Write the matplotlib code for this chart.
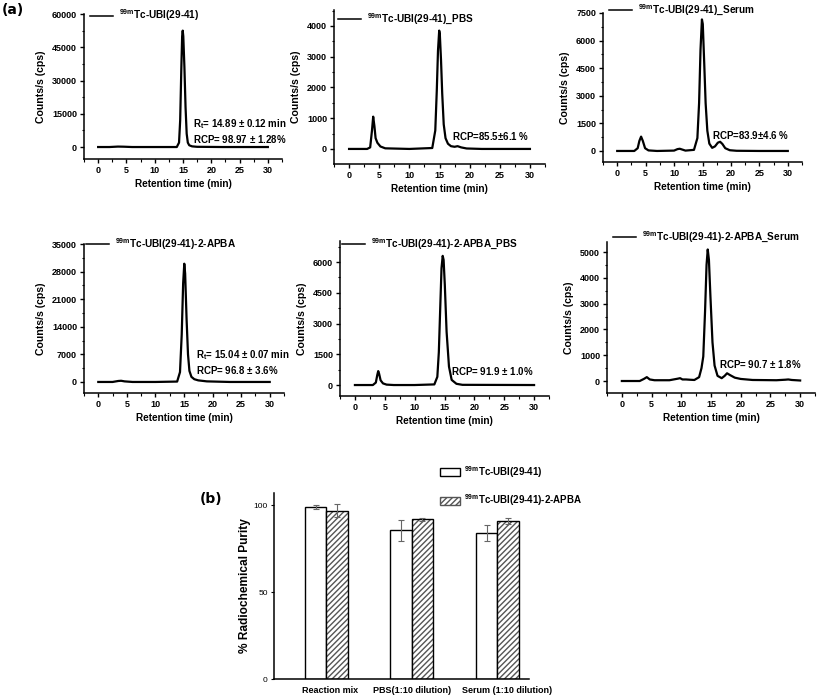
import numpy as np
import matplotlib
matplotlib.use("Agg")
from matplotlib import pyplot as plt
from matplotlib.ticker import MultipleLocator, AutoMinorLocator
from matplotlib.patches import Patch
from matplotlib.transforms import ScaledTranslation

plt.rcParams['font.family'] = ['Liberation Sans', 'DejaVu Sans']
plt.rcParams['font.weight'] = 'bold'
plt.rcParams['mathtext.fontset'] = 'custom'
plt.rcParams['mathtext.rm'] = 'Liberation Sans:bold'
plt.rcParams['mathtext.bf'] = 'Liberation Sans:bold'
plt.rcParams['mathtext.it'] = 'Liberation Sans:bold'

# chromatogram traces (time in min, counts/s)
t_ubi = [0, 2, 3.5, 4.5, 6, 10, 13.9, 14.3, 14.5, 14.7, 14.85, 14.95, 15.05, 15.25, 15.45, 15.65, 15.85, 16.1, 16.6, 17.5, 22, 30]
c_ubi = [0, 0, 200, 150, 0, 0, 0, 2000, 12000, 35000, 50000, 52500, 50000, 36000, 18000, 6000, 2000, 800, 300, 100, 0, 0]

t_ubi_pbs = [0, 3.0, 3.5, 3.8, 4.0, 4.2, 4.4, 4.7, 5.2, 6, 10, 13.8, 14.3, 14.55, 14.75, 14.95, 15.05, 15.25, 15.45, 15.7, 16.0, 16.4, 16.9, 17.5, 18.0, 18.6, 19.5, 22, 30]
c_ubi_pbs = [0, 0, 50, 600, 1050, 750, 350, 200, 80, 20, 0, 30, 600, 1900, 3200, 3850, 3750, 2900, 1800, 800, 350, 170, 90, 70, 90, 50, 15, 0, 0]

t_ubi_ser = [0, 3.0, 3.6, 3.9, 4.2, 4.5, 4.9, 5.5, 7, 10, 10.6, 11.0, 11.4, 12, 13.5, 14.1, 14.4, 14.65, 14.9, 15.05, 15.3, 15.55, 15.85, 16.2, 16.7, 17.2, 17.7, 18.1, 18.5, 19.0, 19.8, 21, 25, 30]
c_ubi_ser = [0, 0, 150, 550, 780, 550, 150, 30, 0, 20, 100, 120, 80, 20, 60, 700, 2600, 5500, 7150, 6900, 4800, 2600, 1100, 400, 170, 250, 450, 500, 380, 150, 40, 10, 0, 0]

t_apba = [0, 2.5, 3.5, 4.0, 4.6, 6, 10, 13.8, 14.3, 14.6, 14.85, 15.05, 15.2, 15.45, 15.7, 15.95, 16.3, 16.8, 17.5, 19, 23, 30]
c_apba = [0, 0, 250, 300, 150, 0, 0, 100, 2500, 12000, 25000, 30000, 27500, 16000, 7000, 2800, 1300, 700, 400, 150, 0, 0]

t_apba_pbs = [0, 3.0, 3.5, 3.75, 3.9, 4.05, 4.3, 4.7, 5.3, 6.5, 10, 13.3, 13.8, 14.05, 14.3, 14.5, 14.7, 14.85, 15.05, 15.35, 15.75, 16.2, 17, 18, 30]
c_apba_pbs = [0, 0, 120, 500, 680, 550, 230, 80, 20, 0, 0, 30, 400, 1600, 3900, 5700, 6300, 6100, 4900, 2600, 900, 250, 60, 10, 0]

t_apba_ser = [0, 3.0, 3.7, 4.2, 4.7, 5.5, 8, 9.4, 9.8, 10.2, 10.8, 11.4, 12.2, 13.0, 13.4, 13.7, 14.0, 14.25, 14.45, 14.65, 14.9, 15.25, 15.6, 16.1, 16.8, 17.3, 17.7, 18.2, 19, 20, 22, 26, 27.5, 28, 28.6, 30]
c_apba_ser = [0, 0, 80, 150, 60, 30, 30, 90, 110, 60, 60, 50, 40, 150, 500, 950, 2700, 4500, 5100, 4700, 3300, 1500, 600, 200, 110, 200, 300, 230, 130, 80, 40, 30, 50, 60, 40, 20]

# bar chart (b)
groups = ['Reaction mix', 'PBS(1:10 dilution)', 'Serum (1:10 dilution)']
rcp_ubi = [98.97, 85.5, 83.9]
err_ubi = [1.28, 6.1, 4.6]
rcp_apba = [96.8, 91.9, 90.7]
err_apba = [3.6, 1.0, 1.8]

W, H = 817, 698
fig = plt.figure(figsize=(W / 100, H / 100), dpi=100)


def ax_at(l, t, r, b):
    return fig.add_axes([l / W, 1 - b / H, (r - l) / W, (b - t) / H])


def chromatogram(box, t, c, ylim, ystep, label, leg_xy, notes):
    ax = ax_at(*box)
    ax.plot(t, c, color='black', lw=1.6)
    ax.set_xlim(-2.5, 32.5)
    ax.set_ylim(*ylim)
    ax.xaxis.set_major_locator(MultipleLocator(5))
    ax.xaxis.set_minor_locator(AutoMinorLocator(2))
    ax.yaxis.set_major_locator(MultipleLocator(ystep))
    ax.yaxis.set_minor_locator(AutoMinorLocator(2))
    for s in ['top', 'right']:
        ax.spines[s].set_visible(False)
    for s in ['left', 'bottom']:
        ax.spines[s].set_linewidth(1.1)
    ax.tick_params(which='major', direction='out', length=3, width=1, labelsize=6.5, pad=2)
    ax.tick_params(which='minor', direction='out', length=1.8, width=0.8)
    ax.set_xlabel('Retention time (min)', fontsize=7.2, fontweight='bold', labelpad=3)
    ax.set_ylabel('Counts/s (cps)', fontsize=7.6, fontweight='bold', labelpad=4)
    ax.legend([plt.Line2D([], [], color='black', lw=1.1)], [label], loc='center left',
              bbox_to_anchor=leg_xy, frameon=False, borderpad=0, borderaxespad=0,
              handlelength=2.3, handletextpad=0.6, prop={'size': 7.2, 'weight': 'bold'})
    for (x, y, s) in notes:
        ax.text(x, y, s, transform=ax.transAxes, fontsize=7, fontweight='bold',
                ha='left', va='center', clip_on=False)
    return ax


sup = r'$^{\mathbf{99m}}$'
chromatogram((84, 14, 282, 159), t_ubi, c_ubi, (-5400, 60000), 15000,
             sup + 'Tc-UBI(29-41)', (0.03, 0.99),
             [(0.55, 0.24, r'R$_\mathbf{t}$= 14.89 $\pm$ 0.12 min'),
              (0.55, 0.14, r'RCP= 98.97 $\pm$ 1.28%')])
chromatogram((334, 10, 545, 164), t_ubi_pbs, c_ubi_pbs, (-490, 4520), 1000,
             sup + 'Tc-UBI(29-41)_PBS', (0.02, 0.94),
             [(0.56, 0.18, r'RCP=85.5$\pm$6.1 %')])
chromatogram((603, 13, 802, 162), t_ubi_ser, c_ubi_ser, (-600, 7500), 1500,
             sup + 'Tc-UBI(29-41)_Serum', (0.03, 1.02),
             [(0.55, 0.18, r'RCP=83.9$\pm$4.6 %')])
chromatogram((84, 244, 284, 393), t_apba, c_apba, (-2800, 35000), 7000,
             sup + 'Tc-UBI(29-41)-2-APBA', (0.01, 1.0),
             [(0.56, 0.255, r'R$_\mathbf{t}$= 15.04 $\pm$ 0.07 min'),
              (0.56, 0.154, r'RCP= 96.8 $\pm$ 3.6%')])
chromatogram((340, 241, 549, 396), t_apba_pbs, c_apba_pbs, (-535, 7025), 1500,
             sup + 'Tc-UBI(29-41)-2-APBA_PBS', (0.01, 0.98),
             [(0.53, 0.16, r'RCP= 91.9 $\pm$ 1.0%')])
chromatogram((607, 242, 815, 393), t_apba_ser, c_apba_ser, (-465, 5390), 1000,
             sup + 'Tc-UBI(29-41)-2-APBA_Serum', (0.03, 1.03),
             [(0.54, 0.19, r'RCP= 90.7 $\pm$ 1.8%')])

fig.text(2 / W, 1 - 10 / H, '(a)', fontsize=10, fontweight='bold', family='DejaVu Sans', va='center')
fig.text(200 / W, 1 - 499 / H, '(b)', fontsize=10, fontweight='bold', family='DejaVu Sans', va='center')

# panel (b)
axb = ax_at(274, 493, 529, 679)
x = np.arange(len(groups))
w = 0.25
axb.bar(x - w / 2, rcp_ubi, w, color='white', edgecolor='black', lw=1.0, zorder=2)
axb.bar(x + w / 2, rcp_apba, w, color='white', edgecolor='#555555', hatch='//////', lw=0, zorder=2)
axb.bar(x + w / 2, rcp_apba, w, color='none', edgecolor='black', lw=1.0, zorder=3)
axb.errorbar(x - w / 2, rcp_ubi, yerr=err_ubi, fmt='none', ecolor='#666666', elinewidth=0.8, capsize=2.5, capthick=0.8, zorder=4)
axb.errorbar(x + w / 2, rcp_apba, yerr=err_apba, fmt='none', ecolor='#666666', elinewidth=0.8, capsize=2.5, capthick=0.8, zorder=4)
axb.set_xlim(-0.61, 2.37)
axb.set_ylim(0, 107)
axb.set_yticks([0, 50, 100])
axb.set_xticks(x)
axb.set_xticklabels(groups)
for s in ['top', 'right']:
    axb.spines[s].set_visible(False)
for s in ['left', 'bottom']:
    axb.spines[s].set_linewidth(1.1)
axb.tick_params(axis='y', direction='out', length=2.5, width=0.8, labelsize=6, pad=2)
for lab in axb.get_yticklabels():
    lab.set_fontweight('normal')
axb.tick_params(axis='x', length=0, labelsize=6.5, pad=5)
# the reference nudges the outer labels a little to the right
for lab, dx in zip(axb.get_xticklabels(), [4, 0, 10]):
    lab.set_transform(lab.get_transform() + ScaledTranslation(dx / 100, 0, fig.dpi_scale_trans))
axb.set_ylabel('% Radiochemical Purity', fontsize=8.6, fontweight='bold', labelpad=2)
hs = [Patch(facecolor='white', edgecolor='black', lw=1.0),
      Patch(facecolor='white', edgecolor='#555555', hatch='//////', lw=1.0)]
axb.legend(hs, [sup + 'Tc-UBI(29-41)', sup + 'Tc-UBI(29-41)-2-APBA'],
           loc='upper left', bbox_to_anchor=(440 / W, 1 - 464 / H), bbox_transform=fig.transFigure,
           frameon=False, borderpad=0, borderaxespad=0, handlelength=2.1, handleheight=0.9,
           handletextpad=0.4, labelspacing=1.3, prop={'size': 7, 'weight': 'bold'})

fig.savefig('out.png', dpi=100)
